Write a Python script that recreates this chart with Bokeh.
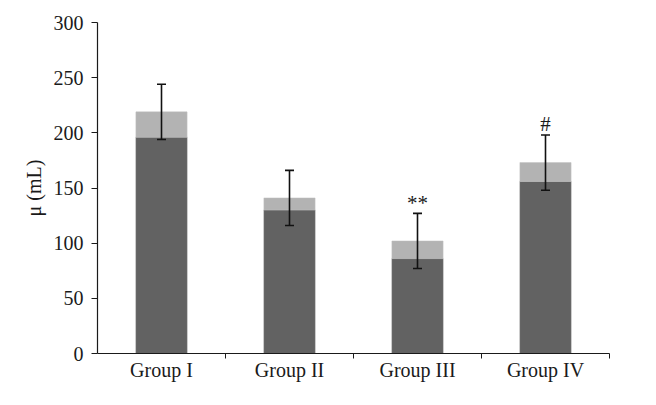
from bokeh.plotting import figure
from bokeh.models import Range1d, FixedTicker, Whisker, TeeHead, ColumnDataSource
from bokeh.core.properties import value
from bokeh.embed import file_html
from bokeh.resources import INLINE

groups = ["Group I", "Group II", "Group III", "Group IV"]
base_vals = [196, 130, 86, 156]
total_vals = [219, 141, 102, 173]
errors = [25, 25, 25, 25]
marks = ["", "", "**", "#"]
mark_y = [0, 0, 136, 208]

xs = [i + 0.5 for i in range(len(groups))]
src = ColumnDataSource(dict(
    x=xs, base=base_vals, total=total_vals,
    lower=[t - e for t, e in zip(total_vals, errors)],
    upper=[t + e for t, e in zip(total_vals, errors)],
    marks=marks, mark_y=mark_y,
))

p = figure(width=640, height=389, output_backend="svg", toolbar_location=None,
           x_range=Range1d(0, 4), y_range=Range1d(0, 300))
p.min_border_left = 97
p.min_border_right = 31
p.min_border_top = 22
p.min_border_bottom = 36
p.outline_line_color = None
p.xgrid.visible = False
p.ygrid.visible = False
p.background_fill_color = "white"

p.vbar(x="x", width=0.4, bottom=0, top="base", source=src,
       fill_color="#626262", line_color="#7a7a7a", line_width=0.5)
p.vbar(x="x", width=0.4, bottom="base", top="total", source=src,
       fill_color="#b3b3b3", line_color="#c0c0c0", line_width=0.5)

w = Whisker(base="x", lower="lower", upper="upper", source=src,
            line_color="#111111", line_width=1.6, level="overlay",
            upper_head=TeeHead(size=9, line_color="#111111", line_width=1.6),
            lower_head=TeeHead(size=9, line_color="#111111", line_width=1.6))
p.add_layout(w)

serif = "Liberation Serif"
p.text(x="x", y="mark_y", text="marks", source=src,
       text_font=value(serif), text_font_size="21px",
       text_align="center", text_baseline="middle", text_color="#1a1a1a")

# y axis
p.yaxis.ticker = FixedTicker(ticks=[0, 50, 100, 150, 200, 250, 300])
p.yaxis.major_tick_in = 0
p.yaxis.major_tick_out = 6
p.yaxis.minor_tick_out = 0
p.yaxis.minor_tick_in = 0
p.yaxis.axis_line_color = "#1a1a1a"
p.yaxis.major_tick_line_color = "#1a1a1a"
p.yaxis.axis_line_width = 1.2
p.yaxis.major_label_text_font = serif
p.yaxis.major_label_text_font_size = "20px"
p.yaxis.major_label_text_color = "#1a1a1a"
p.yaxis.major_label_standoff = 8
p.yaxis.axis_label = "μ (mL)"
p.yaxis.axis_label_text_font = serif
p.yaxis.axis_label_text_font_size = "20px"
p.yaxis.axis_label_text_font_style = "normal"
p.yaxis.axis_label_text_color = "#1a1a1a"
p.yaxis.axis_label_standoff = 6

# x axis
p.xaxis.ticker = FixedTicker(ticks=xs, minor_ticks=[1, 2, 3, 4])
p.xaxis.major_label_overrides = {x: g for x, g in zip(xs, groups)}
p.xaxis.major_tick_in = 0
p.xaxis.major_tick_out = 0
p.xaxis.minor_tick_in = 0
p.xaxis.minor_tick_out = 5
p.xaxis.axis_line_color = "#1a1a1a"
p.xaxis.axis_line_width = 1.2
p.xaxis.minor_tick_line_color = "#1a1a1a"
p.xaxis.major_label_text_font = serif
p.xaxis.major_label_text_font_size = "20px"
p.xaxis.major_label_text_color = "#1a1a1a"
p.xaxis.major_label_standoff = 0

open("out.html", "w").write(file_html(p, INLINE))
